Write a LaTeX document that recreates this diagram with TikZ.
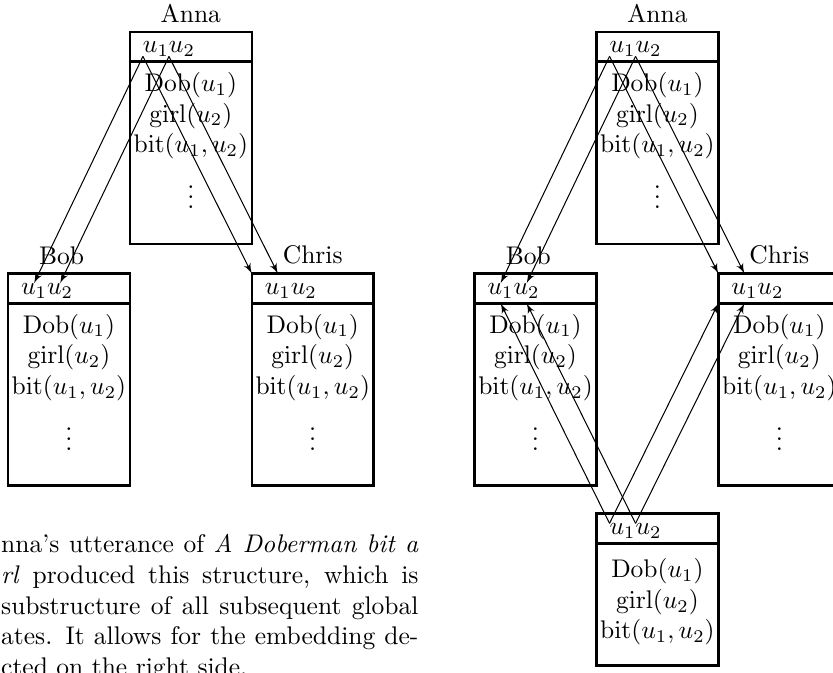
\documentclass[tikz,border=0pt]{standalone}
\usepackage{amsmath}
\usetikzlibrary{arrows,positioning}
\tikzset{
drs/.style = {draw, rectangle, line width=1pt, outer sep=0pt, minimum width=1.68cm, minimum height=2.92cm},
head/.style = {draw, rectangle, line width=1pt, outer sep=0pt, minimum width=1.68cm, minimum height=0.41cm},
var/.style = {inner sep=0pt, outer sep=0pt},
conds/.style = {align=center, inner sep=0pt},
map/.style = {->, thin}
}

\begin{document}
\begin{tikzpicture}[>=latex', node distance=4.75cm]
\useasboundingbox (0,0) rectangle (11.48,-9.27);
\clip (0,0) rectangle (11.48,-9.27);
\node[drs, label=above:Anna] (annaL) at (2.63,-1.90) {};
\node[drs, label={[xshift=-0.1cm]above:Bob}, below left=0.41cm and 0cm of annaL] (bobL) {};
\node[drs, label=above:Chris, below right=0.41cm and 0cm of annaL] (chrisL) {};
\node[drs, label=above:Anna, right=of annaL] (annaR) {};
\node[drs, label={[xshift=-0.1cm]above:Bob}, below left=0.41cm and 0cm of annaR] (bobR) {};
\node[drs, label=above:Chris, below right=0.41cm and 0cm of annaR] (chrisR) {};
\node[drs, minimum height=2.09cm, below right=0.39cm and 0cm of bobR] (low) {};
\foreach \b in {annaL,bobL,chrisL,annaR,bobR,chrisR,low}{
  \node[head, below=0cm of \b.north] (\b-h) {};
  \node[var, right=0.18cm of \b-h.west, yshift=-0.03cm] (\b-1) {$u_1$};
  \node[var, right=0cm of \b-1] (\b-2) {$u_2$};
}
\foreach \b in {annaL,bobL,chrisL,annaR,bobR,chrisR}
  \node[conds, below=0.14cm of \b-h] (\b-c) {$\mathrm{Dob}(u_1)$\\ $\mathrm{girl}(u_2)$\\ $\mathrm{bit}(u_1,u_2)$\\[10pt] $\smash{\vdots}$};
\node[conds, below=0.2cm of low-h] (low-c) {$\mathrm{Dob}(u_1)$\\ $\mathrm{girl}(u_2)$\\ $\mathrm{bit}(u_1,u_2)$};
\foreach \s in {L,R}{
  \draw[map] (anna\s-1.south west) -- (bob\s-1.north);
  \draw[map] (anna\s-2.south west) -- (bob\s-2.north);
  \draw[map] (anna\s-1.south west) -- (chris\s.north west);
  \draw[map] (anna\s-2.south west) -- (chris\s-1 |- chris\s.north);
}
\draw[map] (low-1.north west) -- (bobR-1 |- bobR-h.south);
\draw[map] (low-2.north west) -- (bobR-2 |- bobR-h.south);
\draw[map] (low-1.north west) -- (chrisR-h.south west);
\draw[map] (low-2.north west) -- (chrisR-1 |- chrisR-h.south);
\node[anchor=base west, text width=5.75cm, align=justify, inner sep=0pt] (note) at (0.01,-7.62) {nna's utterance of \emph{A Doberman bit a}\linebreak \emph{rl} produced this structure, which is\linebreak substructure of all subsequent global\linebreak ates. It allows for the embedding de-\linebreak cted on the right side.};
\end{tikzpicture}
\end{document}
